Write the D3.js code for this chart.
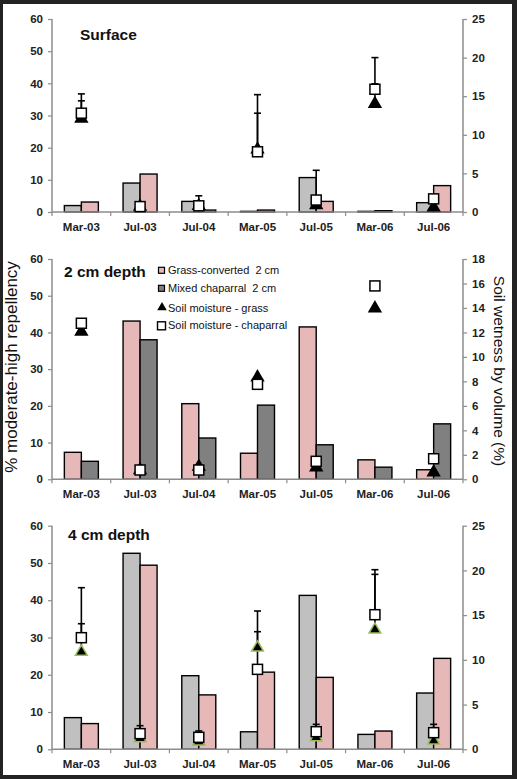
<!DOCTYPE html>
<html>
<head>
<meta charset="utf-8">
<script src="https://cdn.jsdelivr.net/npm/d3@7/dist/d3.min.js"></script>
<style>
html,body{margin:0;padding:0;background:#232323;}
svg{display:block;}
text{white-space:pre;}
</style>
</head>
<body>
<svg id="chart" width="517" height="779"></svg>
<script>
// ---------- DATA ----------
const categories = ["Mar-03","Jul-03","Jul-04","Mar-05","Jul-05","Mar-06","Jul-06"];

// Surface
const surfChaparral = [2.0, 9.0, 3.3, 0.2, 10.7, 0.2, 2.9];
const surfGrass     = [3.1, 11.8, 0.6, 0.6, 3.3, 0.4, 8.2];
const surfMoistGrass = [12.1, 0.7, 0.8, 8.1, 0.9, 14.0, 0.6];
const surfMoistChap  = [12.8, 0.7, 0.8, 7.8, 1.55, 15.9, 1.7];
const surfErrChap    = [2.5, 0, 1.3, 7.4, 3.85, 4.1, 0];
const surfErrGrass   = [2.3, 0, 0, 4.7, 0, 2.6, 0];

// 2 cm depth
const d2Grass      = [7.35, 43.1, 20.6, 7.1, 41.5, 5.3, 2.6];
const d2Chaparral  = [4.9, 38.0, 11.25, 20.2, 9.4, 3.3, 15.1];
const d2MoistGrass = [12.06, 0.76, 1.03, 8.33, 0.98, 13.97, 0.57];
const d2MoistChap  = [12.75, 0.76, 0.76, 7.76, 1.47, 15.8, 1.68];

// 4 cm depth
const d4Chaparral  = [8.5, 52.6, 19.75, 4.7, 41.3, 4.0, 15.1];
const d4Grass      = [6.9, 49.4, 14.6, 20.7, 19.3, 4.9, 24.4];
const d4MoistGrass = [10.9, 1.23, 0.85, 11.36, 1.34, 13.37, 0.96];
const d4MoistChap  = [12.48, 1.75, 1.34, 8.94, 1.97, 15.05, 1.86];
const d4ErrChap    = [5.59, 0.89, 0.71, 6.52, 0.82, 5.03, 0.93];
const d4ErrGrass   = [3.14, 0, 0, 1.79, 0, 6.19, 0];

const leftTicks = [0,10,20,30,40,50,60];
const rightTicks25 = [0,5,10,15,20,25];
const rightTicks18 = [0,2,4,6,8,10,12,14,16,18];

const legendLabels = ["Grass-converted  2 cm","Mixed chaparral  2 cm","Soil moisture - grass","Soil moisture - chaparral"];

const leftTitle = "% moderate-high repellency";
const rightTitle = "Soil wetness by volume (%)";

// ---------- COLORS ----------
const PINK = "#e6b9b8", LGRAY = "#c0c0c0", DGRAY = "#808080", AXIS = "#8c8c8c";

// ---------- PANELS ----------
const panels = [
  {title:"Surface", tx:80, ty:40, yTop:19, yBot:212, rMax:25, rTicks:rightTicks25,
   bars:[{v:surfChaparral,c:LGRAY},{v:surfGrass,c:PINK}],
   mGrass:surfMoistGrass, mChap:surfMoistChap, eGrass:surfErrGrass, eChap:surfErrChap,
   triStroke:"#000"},
  {title:"2 cm depth", tx:64, ty:277, yTop:259, yBot:479.3, rMax:18, rTicks:rightTicks18,
   bars:[{v:d2Grass,c:PINK},{v:d2Chaparral,c:DGRAY}],
   mGrass:d2MoistGrass, mChap:d2MoistChap, eGrass:null, eChap:null,
   triStroke:"#000", legend:true},
  {title:"4 cm depth", tx:68, ty:540, yTop:525.7, yBot:749.3, rMax:25, rTicks:rightTicks25,
   bars:[{v:d4Chaparral,c:LGRAY},{v:d4Grass,c:PINK}],
   mGrass:d4MoistGrass, mChap:d4MoistChap, eGrass:d4ErrGrass, eChap:d4ErrChap,
   triStroke:"#9bbb59"}
];

const svg = d3.select("#chart");
svg.append("rect").attr("x",3).attr("y",4).attr("width",509).attr("height",771).attr("fill","#fff");

const xL = 52, xR = 463;
const x = d3.scaleBand().domain(categories).range([xL, xR]).paddingInner(0).paddingOuter(0);
const barW = 17;
const font = "'Liberation Sans', Arial, sans-serif";

panels.forEach(p => {
  const g = svg.append("g");
  const yL = d3.scaleLinear().domain([0,60]).range([p.yBot, p.yTop]);
  const yR = d3.scaleLinear().domain([0,p.rMax]).range([p.yBot, p.yTop]);

  const la = g.append("g").attr("transform",`translate(${xL},0)`)
    .call(d3.axisLeft(yL).tickValues(leftTicks).tickSize(4).tickPadding(5));
  const ra = g.append("g").attr("transform",`translate(${xR},0)`)
    .call(d3.axisRight(yR).tickValues(p.rTicks).tickSize(4).tickPadding(5));
  [la,ra].forEach(a => {
    a.select(".domain").attr("stroke",AXIS).attr("stroke-width",1.5);
    a.selectAll(".tick line").attr("stroke",AXIS).attr("stroke-width",1.2);
    a.selectAll(".tick text").attr("font-family",font).attr("font-size",11.5).attr("font-weight","bold").attr("fill","#222");
  });
  la.select(".domain").attr("d",`M0,${p.yTop}V${p.yBot}`);
  ra.select(".domain").attr("d",`M0,${p.yTop}V${p.yBot}`);

  p.bars.forEach((b,i) => {
    g.selectAll(null).data(categories).enter().append("rect")
      .attr("x", d => x(d) + x.bandwidth()/2 - barW + i*barW)
      .attr("width", barW)
      .attr("y", (d,j) => yL(b.v[j]))
      .attr("height", (d,j) => p.yBot - yL(b.v[j]))
      .attr("fill", b.c).attr("stroke","#000").attr("stroke-width",1.4);
  });

  const xa = g.append("g").attr("transform",`translate(0,${p.yBot})`);
  xa.append("line").attr("x1",xL).attr("x2",xR).attr("stroke",AXIS).attr("stroke-width",1.5);
  const bounds = categories.map(c => x(c)).concat([xR]);
  xa.selectAll(null).data(bounds).enter().append("line")
    .attr("x1",d=>d).attr("x2",d=>d).attr("y1",0).attr("y2",4).attr("stroke",AXIS).attr("stroke-width",1.2);
  xa.selectAll(null).data(categories).enter().append("text")
    .attr("x", d => x(d)+x.bandwidth()/2).attr("y", 18.5)
    .attr("text-anchor","middle").attr("font-family",font).attr("font-size",11.5)
    .attr("font-weight","bold").attr("fill","#222").text(d=>d);

  const drawErr = (vals, errs) => {
    if (!errs) return;
    categories.forEach((c,j) => {
      if (!errs[j]) return;
      const cx = x(c)+x.bandwidth()/2;
      const y0 = yR(vals[j]), y1 = yR(vals[j]+errs[j]);
      g.append("line").attr("x1",cx).attr("x2",cx).attr("y1",y0).attr("y2",y1).attr("stroke","#000").attr("stroke-width",1.6);
      g.append("line").attr("x1",cx-3.5).attr("x2",cx+3.5).attr("y1",y1).attr("y2",y1).attr("stroke","#000").attr("stroke-width",1.6);
    });
  };
  drawErr(p.mChap, p.eChap);
  drawErr(p.mGrass, p.eGrass);

  g.selectAll(null).data(categories).enter().append("path")
    .attr("d", d3.symbol().type(d3.symbolTriangle).size(60))
    .attr("transform",(d,j)=>`translate(${x(d)+x.bandwidth()/2},${yR(p.mGrass[j])})`)
    .attr("fill","#000").attr("stroke",p.triStroke).attr("stroke-width",1.5);
  g.selectAll(null).data(categories).enter().append("rect")
    .attr("x", d => x(d)+x.bandwidth()/2-5).attr("width",10)
    .attr("y", (d,j) => yR(p.mChap[j])-5).attr("height",10)
    .attr("fill","#fff").attr("stroke","#000").attr("stroke-width",1.5);

  g.append("text").attr("x",p.tx).attr("y",p.ty).attr("font-family",font)
    .attr("font-size",15.5).attr("font-weight","bold").attr("fill","#111").text(p.title);

  if (p.legend) {
    const rows = [270.3, 288.3, 307.5, 325.3];
    const lg = g.append("g");
    lg.append("rect").attr("x",158.5).attr("y",rows[0]-3).attr("width",6).attr("height",6).attr("fill",PINK).attr("stroke","#000").attr("stroke-width",1.2);
    lg.append("rect").attr("x",158.5).attr("y",rows[1]-3).attr("width",6).attr("height",6).attr("fill",DGRAY).attr("stroke","#000").attr("stroke-width",1.2);
    lg.append("path").attr("d",d3.symbol().type(d3.symbolTriangle).size(40)).attr("transform",`translate(162,${rows[2]})`).attr("fill","#000");
    lg.append("rect").attr("x",157.5).attr("y",rows[3]-3.5).attr("width",8).attr("height",8).attr("fill","#fff").attr("stroke","#000").attr("stroke-width",1.4);
    lg.selectAll(null).data(legendLabels).enter().append("text")
      .attr("x",168).attr("y",(d,i)=>rows[i]+4).attr("font-family",font).attr("font-size",11)
      .attr("fill","#111").attr("xml:space","preserve").text(d=>d);
  }
});

svg.append("text").attr("transform","translate(17,367) rotate(-90)").attr("text-anchor","middle")
  .attr("font-family",font).attr("font-size",17).attr("fill","#111").text(leftTitle);
svg.append("text").attr("transform","translate(494,371) rotate(90)").attr("text-anchor","middle")
  .attr("font-family",font).attr("font-size",15.5).attr("fill","#111").text(rightTitle);
</script>
</body>
</html>
